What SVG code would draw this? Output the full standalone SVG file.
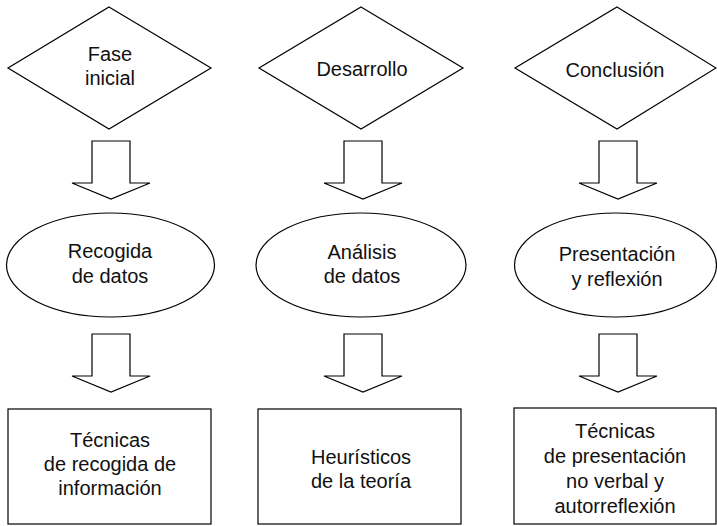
<svg xmlns="http://www.w3.org/2000/svg" width="717" height="526" viewBox="0 0 717 526">
<style>
.s{fill:#fff;stroke:#000;stroke-width:1.2}
.t{font-family:"Liberation Sans",Arial,sans-serif;font-size:20px;fill:#111;text-anchor:middle}
</style>
<defs>
<path id="arr" d="M-19,0 H19 V42 H39 L0,58 L-39,42 H-19 Z"/>
</defs>
<rect width="717" height="526" fill="#fff"/>
<g id="connectors">
<use href="#arr" class="s" x="111" y="141"/>
<use href="#arr" class="s" x="363" y="141"/>
<use href="#arr" class="s" x="618" y="141"/>
<use href="#arr" class="s" x="111" y="334"/>
<use href="#arr" class="s" x="363" y="334"/>
<use href="#arr" class="s" x="618" y="334"/>
</g>
<g id="fase-inicial">
<polygon class="s" points="109,7 211,68 109,129 8,68"/>
<text class="t" x="110" y="61">Fase</text>
<text class="t" x="110" y="85">inicial</text>
</g>
<g id="desarrollo">
<polygon class="s" points="361,7 463,68 361,129 259,68"/>
<text class="t" x="362" y="76">Desarrollo</text>
</g>
<g id="conclusion">
<polygon class="s" points="617,7 716,68 617,129 515,68"/>
<text class="t" x="615" y="77">Conclusión</text>
</g>
<g id="recogida-datos">
<ellipse class="s" cx="110.5" cy="265" rx="104" ry="52"/>
<text class="t" x="110" y="258">Recogida</text>
<text class="t" x="110" y="283">de datos</text>
</g>
<g id="analisis-datos">
<ellipse class="s" cx="361" cy="265" rx="105" ry="52"/>
<text class="t" x="362" y="259">Análisis</text>
<text class="t" x="362" y="283">de datos</text>
</g>
<g id="presentacion-reflexion">
<ellipse class="s" cx="615.5" cy="265" rx="101" ry="52"/>
<text class="t" x="617" y="261">Presentación</text>
<text class="t" x="617" y="286">y reflexión</text>
</g>
<g id="tecnicas-recogida">
<rect class="s" x="8" y="409" width="203" height="115"/>
<text class="t" x="110" y="447">Técnicas</text>
<text class="t" x="110" y="471">de recogida de</text>
<text class="t" x="110" y="495">información</text>
</g>
<g id="heuristicos">
<rect class="s" x="258" y="409" width="203" height="115"/>
<text class="t" x="361" y="464">Heurísticos</text>
<text class="t" x="361" y="488">de la teoría</text>
</g>
<g id="tecnicas-presentacion">
<rect class="s" x="514" y="408" width="202" height="116"/>
<text class="t" x="615" y="438">Técnicas</text>
<text class="t" x="615" y="463">de presentación</text>
<text class="t" x="615" y="488">no verbal y</text>
<text class="t" x="615" y="513">autorreflexión</text>
</g>
</svg>
